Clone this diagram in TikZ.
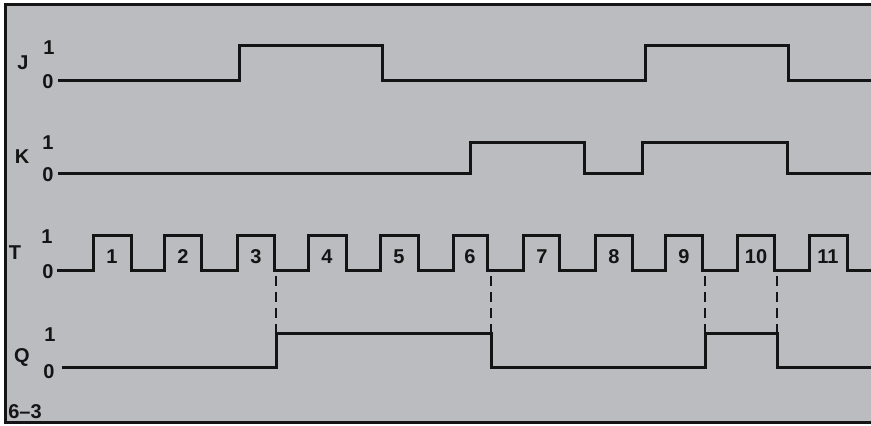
\documentclass[tikz,border=0pt]{standalone}
\usepackage{fontspec}
\setmainfont{Liberation Sans}
\definecolor{paper}{RGB}{186,188,192}
\definecolor{ink}{RGB}{20,20,20}
\tikzset{
  lbl/.style={font=\fontsize{20}{20}\selectfont\bfseries, text=ink, inner sep=0pt},
  wave/.style={draw=ink, line width=3pt, line join=miter},
  guide/.style={draw=ink, line width=2.6pt, dash pattern=on 10pt off 6pt}
}
\begin{document}
\begin{tikzpicture}[x=1pt,y=-1pt]
\useasboundingbox (0,0) rectangle (871,426);
\fill[white] (0,0) rectangle (871,426);
\fill[paper] (5,4) rectangle (871,422);
\draw[ink, line width=3pt] (871,4.5) -- (5,4.5) -- (5,422) -- (871,422);

% signal names and levels
\node[lbl] (jname) at (23,63) {J};
\node[lbl] (jone) at (49,48) {1};
\node[lbl] (jzero) at (48,82) {0};
\node[lbl] (kname) at (22,157) {K};
\node[lbl] (kone) at (48,143) {1};
\node[lbl] (kzero) at (48,175) {0};
\node[lbl] (tname) at (15,253) {T};
\node[lbl] (tone) at (47,237) {1};
\node[lbl] (tzero) at (48,272) {0};
\node[lbl] (qname) at (22,357) {Q};
\node[lbl] (qone) at (50,335) {1};
\node[lbl] (qzero) at (49,372) {0};

% waveforms
\draw[wave] (58,80) -| (239,45) -| (382,80) -| (645,45) -| (788,80) -- (871,80);
\draw[wave] (58,173) -| (470,142) -| (584,173) -| (642,142) -| (787,173) -- (871,173);
\draw[wave] (57,270) -| (93,235) -| (131,270) -| (164,235) -| (201,270) -| (237,235)
  -| (274,270) -| (308,235) -| (346,270) -| (380,235) -| (418,270) -| (453,235)
  -| (487,270) -| (523,235) -| (559,270) -| (595,235) -| (632,270) -| (665,235)
  -| (702,270) -| (737,235) -| (774,270) -| (809,235) -| (847,270) -- (871,270);
\draw[wave] (62,367) -| (276,333) -| (491,367) -| (705,333) -| (777,367) -- (871,367);

% clock pulse numbers
\node[lbl] (p1) at (112,257) {1};
\node[lbl] (p2) at (183,257) {2};
\node[lbl] (p3) at (256,257) {3};
\node[lbl] (p4) at (327,257) {4};
\node[lbl] (p5) at (399,257) {5};
\node[lbl] (p6) at (470,257) {6};
\node[lbl] (p7) at (542,257) {7};
\node[lbl] (p8) at (614,257) {8};
\node[lbl] (p9) at (684,257) {9};
\node[lbl] (p10) at (756,257) {10};
\node[lbl] (p11) at (828,257) {11};

% trailing edges that switch Q
\coordinate (t3) at (276,276);
\coordinate (q3) at (276,333);
\coordinate (t6) at (491,276);
\coordinate (q6) at (491,333);
\coordinate (t9) at (705,276);
\coordinate (q9) at (705,333);
\coordinate (t10) at (777,276);
\coordinate (q10) at (777,333);
\draw[guide] (t3) -- (q3);
\draw[guide] (t6) -- (q6);
\draw[guide] (t9) -- (q9);
\draw[guide] (t10) -- (q10);

\node[lbl] (fig) at (25,412) {6--3};
\end{tikzpicture}
\end{document}
